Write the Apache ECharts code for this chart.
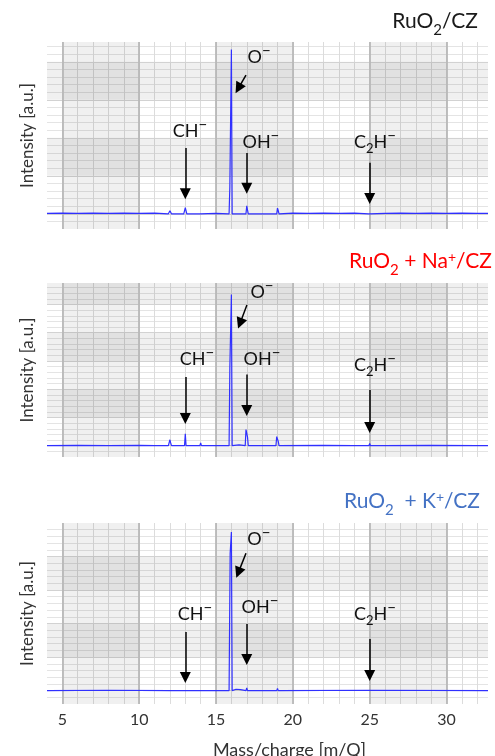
<!DOCTYPE html>
<html><head><meta charset="utf-8">
<script src="https://cdn.jsdelivr.net/npm/echarts@6/dist/echarts.min.js"></script>
<style>html,body{margin:0;padding:0;background:#fff}#c{width:495px;height:756px}</style>
</head><body><div id="c"></div>
<script>
// ---------------- data ----------------
const massTicks = [5, 10, 15, 20, 25, 30];           // x tick labels (m/Q)
const ionLabels = ['O−', 'CH−', 'OH−', 'C2H−'];

// [m/Q, intensity (a.u.)]
const specRuO2 = [
  [4.0,0.01],[5.0,0.02],[6.0,0.01],[7.0,0.02],[8.0,0.01],[9.0,0.02],[10.0,0.01],[11.0,0.02],
  [11.9,0.0],[12.0,0.08],[12.1,0.0],
  [12.9,0.0],[13.0,0.16],[13.1,0.0],
  [13.95,0.0],[14.0,0.05],[14.05,0.0],[15.0,0.01],
  [15.85,0.0],[15.9,0.71],[15.95,0.68],[16.0,4.32],[16.05,0.0],
  [16.95,0.0],[17.0,0.21],[17.05,0.1],[17.1,0.0],
  [17.95,0.0],[18.0,0.04],[18.05,0.0],
  [18.95,0.0],[19.0,0.15],[19.05,0.08],[19.1,0.0],
  [20.0,0.02],[21.0,0.01],[22.0,0.02],[23.0,0.01],[24.0,0.02],
  [24.95,0.0],[25.0,0.05],[25.05,0.0],
  [26.0,0.01],[27.0,0.02],[28.0,0.01],[29.0,0.02],[30.0,0.01],[31.0,0.02],[32.0,0.01],[32.7,0.01]
];
const specRuO2Na = [
  [4.0,0.0],[6.0,0.01],[8.0,0.0],[10.0,0.01],[11.0,0.0],
  [11.9,0.0],[12.0,0.21],[12.05,0.1],[12.1,0.0],
  [12.95,0.0],[13.0,0.42],[13.05,0.0],
  [13.95,0.0],[14.0,0.1],[14.05,0.0],
  [15.85,0.0],[15.9,2.76],[15.95,2.7],[16.0,5.35],[16.05,0.0],[16.5,0.03],
  [16.9,0.0],[16.95,0.57],[17.0,0.55],[17.05,0.3],[17.1,0.0],
  [17.95,0.0],[18.0,0.05],[18.05,0.0],
  [18.9,0.0],[18.95,0.32],[19.0,0.3],[19.05,0.15],[19.1,0.0],
  [22.0,0.01],[23.95,0.0],[24.0,0.05],[24.05,0.0],
  [24.95,0.0],[25.0,0.08],[25.05,0.0],
  [25.95,0.0],[26.0,0.04],[26.05,0.0],
  [29.0,0.01],[31.95,0.0],[32.0,0.04],[32.05,0.0],[32.7,0.0]
];
const specRuO2K = [
  [4.0,0.0],[8.0,0.01],[12.0,0.0],
  [12.95,0.0],[13.0,0.05],[13.05,0.0],
  [15.85,0.0],[15.92,4.1],[15.96,4.05],[16.0,4.73],[16.05,0.0],
  [16.3,0.04],[16.4,0.0],[16.6,0.03],[16.7,0.0],
  [16.95,0.0],[17.0,0.08],[17.05,0.0],
  [17.95,0.0],[18.0,0.03],[18.05,0.0],
  [18.95,0.0],[19.0,0.06],[19.05,0.0],
  [25.0,0.01],[32.7,0.0]
];
const spectra = [specRuO2, specRuO2Na, specRuO2K];

// ---------------- layout / style ----------------
const FONT = "Lato, 'Open Sans', sans-serif";
const X_MIN = 4, X_MAX = 32.7, Y_MIN = -0.4;
const grids = [
  {left: 47, width: 441, top: 42, height: 187, outerBoundsMode: 'none', containLabel: false},
  {left: 47, width: 441, top: 283, height: 174, outerBoundsMode: 'none', containLabel: false},
  {left: 47, width: 441, top: 523, height: 181, outerBoundsMode: 'none', containLabel: false}
];
const yMaxs = [4.52, 5.76, 5.0];
const ySplit = [5, 6, 5];

const titleCfg = [
  {text: '{m|RuO}{b|2}{m|/CZ}', color: '#1a1a1a', right: 17, top: 14},
  {text: '{m|RuO}{b|2}{m| + Na}{p|+}{m|/CZ}', color: '#ff0000', right: 3, top: 254},
  {text: '{m|RuO}{b|2}{m|  + K}{p|+}{m|/CZ}', color: '#4472c4', right: 15, top: 494}
];

// annotation placement (data units of each panel)
const annot = [
  {labels: [[17.8,4.05],[13.3,2.1],[17.92,1.81],[25.34,1.81]],
   arrows: [[[16.95,3.65],[16.45,3.3]],[[13,1.73],[13,0.53]],[[17,1.6],[17,0.67]],[[25,1.34],[25,0.4]]]},
  {labels: [[17.99,5.33],[13.76,2.96],[17.99,2.96],[25.34,2.75]],
   arrows: [[[17.01,4.98],[16.56,4.33]],[[13,2.43],[13,0.96]],[[17,2.52],[17,1.25]],[[25,1.97],[25,0.64]]]},
  {labels: [[17.79,4.44],[13.63,2.2],[17.86,2.41],[25.34,2.2]],
   arrows: [[[16.95,4.1],[16.45,3.52]],[[13,1.75],[13,0.39]],[[17,1.99],[17,0.93]],[[25,1.54],[25,0.45]]]}
];

const ionRich = {
  m: {fontSize: 18, lineHeight: 20, padding: [0,0,4,0], verticalAlign: 'bottom', color: '#111', fontFamily: FONT},
  b: {fontSize: 13, lineHeight: 13, verticalAlign: 'bottom', color: '#111', fontFamily: FONT},
  p: {fontSize: 15, lineHeight: 13, padding: [0,0,11,0], verticalAlign: 'bottom', color: '#111', fontFamily: FONT}
};
function ionText(s) {
  let out = '';
  for (const ch of s) {
    if (ch === '−') out += '{p|−}';
    else if (/[0-9]/.test(ch)) out += '{b|' + ch + '}';
    else out += '{m|' + ch + '}';
  }
  return out;
}

const xAxes = [], yAxes = [], series = [], titles = [];
grids.forEach((g, i) => {
  const last = i === grids.length - 1;
  // minor grid axes
  xAxes.push({
    type: 'value', gridIndex: i, position: 'bottom', min: X_MIN, max: X_MAX, interval: 1, z: 0,
    axisLine: {show: false}, axisTick: {show: false}, axisLabel: {show: false},
    splitLine: {show: true, showMinLine: false, showMaxLine: false, lineStyle: {color: '#dcdcdc', width: 1}}
  });
  yAxes.push({
    type: 'value', gridIndex: i, position: 'left', min: Y_MIN, max: yMaxs[i], interval: 0.2, z: 0,
    axisLine: {show: false}, axisTick: {show: false}, axisLabel: {show: false},
    splitLine: {show: true, showMinLine: false, showMaxLine: false, lineStyle: {color: '#e4e4e4', width: 1}}
  });
  // major axes
  xAxes.push({
    type: 'value', gridIndex: i, position: 'bottom', min: X_MIN, max: X_MAX, splitNumber: 5, z: 1,
    axisLine: {show: false}, axisTick: {show: false},
    axisLabel: {show: last, margin: 8, fontSize: 16, color: '#333', fontFamily: FONT,
      formatter: v => massTicks.includes(Math.round(v * 100) / 100) ? String(v) : ''},
    splitLine: {show: true, showMinLine: false, showMaxLine: false, lineStyle: {color: '#b8b8b8', width: 1.8}},
    splitArea: {show: true, areaStyle: {color: ['rgba(0,0,0,0)', 'rgba(0,0,0,0.06)']}},
    name: last ? 'Mass/charge [m/Q]' : '', nameLocation: 'middle', nameGap: 37,
    nameTextStyle: {fontSize: 18, color: '#333', fontFamily: FONT, padding: [0, 0, 0, 44]}
  });
  yAxes.push({
    type: 'value', gridIndex: i, position: 'left', min: Y_MIN, max: yMaxs[i], splitNumber: ySplit[i], z: 1,
    axisLine: {show: false}, axisTick: {show: false}, axisLabel: {show: false},
    splitLine: {show: true, showMinLine: false, showMaxLine: false, lineStyle: {color: '#d2d2d2', width: 1}},
    splitArea: {show: true, areaStyle: {color: ['rgba(0,0,0,0)', 'rgba(0,0,0,0)', 'rgba(0,0,0,0.06)', 'rgba(0,0,0,0)',
      'rgba(0,0,0,0.06)', 'rgba(0,0,0,0)', 'rgba(0,0,0,0.06)', 'rgba(0,0,0,0)']}},
    name: 'Intensity [a.u.]', nameLocation: 'middle', nameGap: 11,
    nameTextStyle: {fontSize: 17, color: '#333', fontFamily: FONT}
  });

  const a = annot[i];
  series.push({
    type: 'line', xAxisIndex: 2 * i + 1, yAxisIndex: 2 * i + 1, data: spectra[i],
    symbol: 'none', showSymbol: false, silent: true, z: 5, sampling: null,
    lineStyle: {color: '#3030ff', width: 1.2},
    markLine: {
      silent: true, symbol: ['none', 'triangle'], symbolSize: 11,
      label: {show: false},
      lineStyle: {color: '#000', width: 1.5, type: 'solid'},
      data: a.arrows.map(p => [{coord: p[0]}, {coord: p[1]}])
    },
    markPoint: {
      silent: true, symbol: 'rect', symbolSize: 1, itemStyle: {color: 'rgba(0,0,0,0)'},
      label: {show: true, position: 'inside', rich: ionRich},
      data: a.labels.map((p, k) => ({coord: p, value: 0, label: {formatter: ionText(ionLabels[k])}}))
    }
  });

  const t = titleCfg[i];
  titles.push({
    text: t.text, right: t.right, top: t.top, padding: 0,
    textStyle: {
      fontFamily: FONT, color: t.color, fontWeight: 'normal',
      rich: {
        m: {fontSize: 21, lineHeight: 24, padding: [0,0,6,0], verticalAlign: 'bottom', color: t.color, fontFamily: FONT},
        b: {fontSize: 15, lineHeight: 15, verticalAlign: 'bottom', color: t.color, fontFamily: FONT},
        p: {fontSize: 14, lineHeight: 14, padding: [0,0,14,0], verticalAlign: 'bottom', color: t.color, fontFamily: FONT}
      }
    }
  });
});

const chart = echarts.init(document.getElementById('c'), null, {renderer: 'canvas'});
chart.setOption({
  animation: false,
  backgroundColor: '#ffffff',
  title: titles,
  grid: grids,
  xAxis: xAxes,
  yAxis: yAxes,
  series: series
});
</script>
</body></html>
